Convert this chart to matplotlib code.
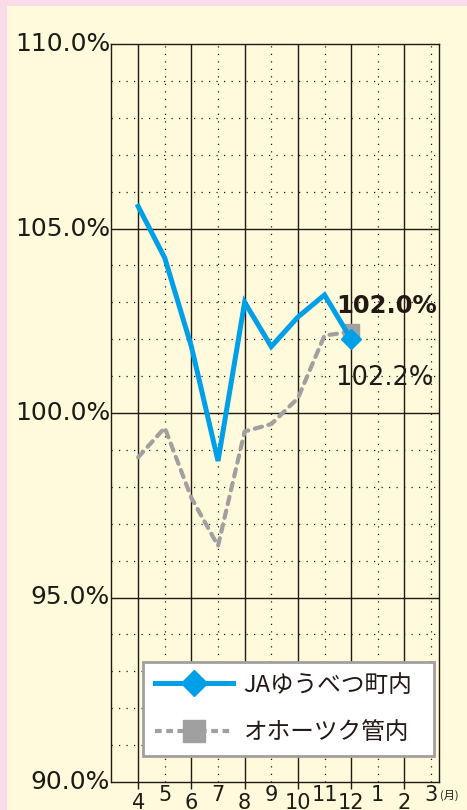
import numpy as np
import matplotlib.pyplot as plt
from matplotlib.lines import Line2D
from matplotlib.patches import Rectangle
import matplotlib.transforms as mtrans

plt.rcParams['font.family'] = ['Noto Sans CJK JP', 'DejaVu Sans']

# data (%)
months = ['4', '5', '6', '7', '8', '9', '10', '11', '12', '1', '2', '3']
ja_yubetsu = [105.6, 104.2, 101.8, 98.7, 103.0, 101.8, 102.6, 103.2, 102.0]
okhotsk = [98.8, 99.6, 97.7, 96.4, 99.5, 99.7, 100.4, 102.1, 102.2]
yticks = [90, 95, 100, 105, 110]
names = ['JAゆうべつ町内', 'オホーツク管内']

W, H = 467, 810
ink = '#231815'
blue = '#00a0e9'
gray = '#a0a0a0'
num_font = ['DejaVu Sans']

fig = plt.figure(figsize=(W / 100, H / 100), dpi=100)
fig.patch.set_facecolor('#f9dbea')
fig.patches.append(Rectangle((7 / W, 0), 1, (H - 6) / H, transform=fig.transFigure,
                             facecolor='#fffadb', edgecolor='none', zorder=-10))

ax = fig.add_axes([111 / W, (H - 782) / H, (439 - 111) / W, (782 - 44) / H])
ax.set_facecolor('none')
x = np.arange(len(months))
ax.set_xlim(-1.02, 11.3)
ax.set_ylim(90, 110)

# grid: solid at even months and every 5%, dotted otherwise
for i in x:
    if i % 2 == 0:
        ax.axvline(i, color=ink, lw=1.0, zorder=1)
    else:
        ax.axvline(i, color=ink, lw=0.9, ls=(0, (1, 5)), zorder=1)
for v in range(91, 110):
    if v % 5 == 0:
        ax.axhline(v, color=ink, lw=1.0, zorder=1)
    else:
        ax.axhline(v, color=ink, lw=0.9, ls=(0, (1, 5)), zorder=1)
for s in ax.spines.values():
    s.set_color(ink)
    s.set_linewidth(1.0)
ax.set_xticks(x[::2])
ax.set_xticklabels([])
ax.tick_params(axis='x', length=5, width=1, color=ink, direction='out')
ax.set_yticks([])

# y labels
ytr = mtrans.blended_transform_factory(ax.transAxes, ax.transData)
for v in yticks:
    ax.text(-0.003, v, f'{v:.1f}%', transform=ytr, ha='right', va='center',
            fontsize=18, family=num_font, color=ink)

# x labels, staggered
tr = mtrans.blended_transform_factory(ax.transData, ax.transAxes)
for i, m in enumerate(months):
    yy = -0.029 if i % 2 == 0 else -0.018
    ax.text(i, yy, m, transform=tr, ha='center', va='center', fontsize=15,
            family=num_font, color=ink)
ax.text(11.33, -0.018, '(月)', transform=tr, ha='left', va='center', fontsize=8, color=ink)

n = len(ja_yubetsu)
ax.plot(x[:n], okhotsk, color=gray, lw=3, ls=(0, (1.8, 1.6)), dash_capstyle='round',
        marker='s', markersize=11, markevery=[n - 1], zorder=3)
ax.plot(x[:n], ja_yubetsu, color=blue, lw=3.6, solid_joinstyle='miter',
        marker='D', markersize=10, markevery=[n - 1], zorder=4)

ax.text(n - 1 - 0.55, ja_yubetsu[-1] + 0.9, f'{ja_yubetsu[-1]:.1f}%', ha='left', va='center',
        fontsize=17.5, fontweight='bold', family=num_font, color=ink, zorder=5)
ax.text(n - 1 - 0.62, okhotsk[-1] - 1.25, f'{okhotsk[-1]:.1f}%', ha='left', va='center',
        fontsize=18.5, family=num_font, color=ink, zorder=5)

handles = [Line2D([], [], color=blue, lw=3.6, marker='D', markersize=13),
           Line2D([], [], color=gray, lw=3, ls=(0, (1.6, 1.1)), marker='s', markersize=16)]
leg = ax.legend(handles, names, loc='lower left', bbox_to_anchor=(0.098, 0.035, 0.887, 0.132),
                mode='expand', fontsize=17, handlelength=3.3, handletextpad=0.45,
                borderaxespad=0, labelspacing=1.05, fancybox=False, framealpha=1,
                borderpad=0.5)
leg.get_frame().set_edgecolor('#a0a0a0')
leg.get_frame().set_linewidth(2)
for t in leg.get_texts():
    t.set_color(ink)
leg.set_zorder(6)

plt.savefig('out.png', dpi=100)
